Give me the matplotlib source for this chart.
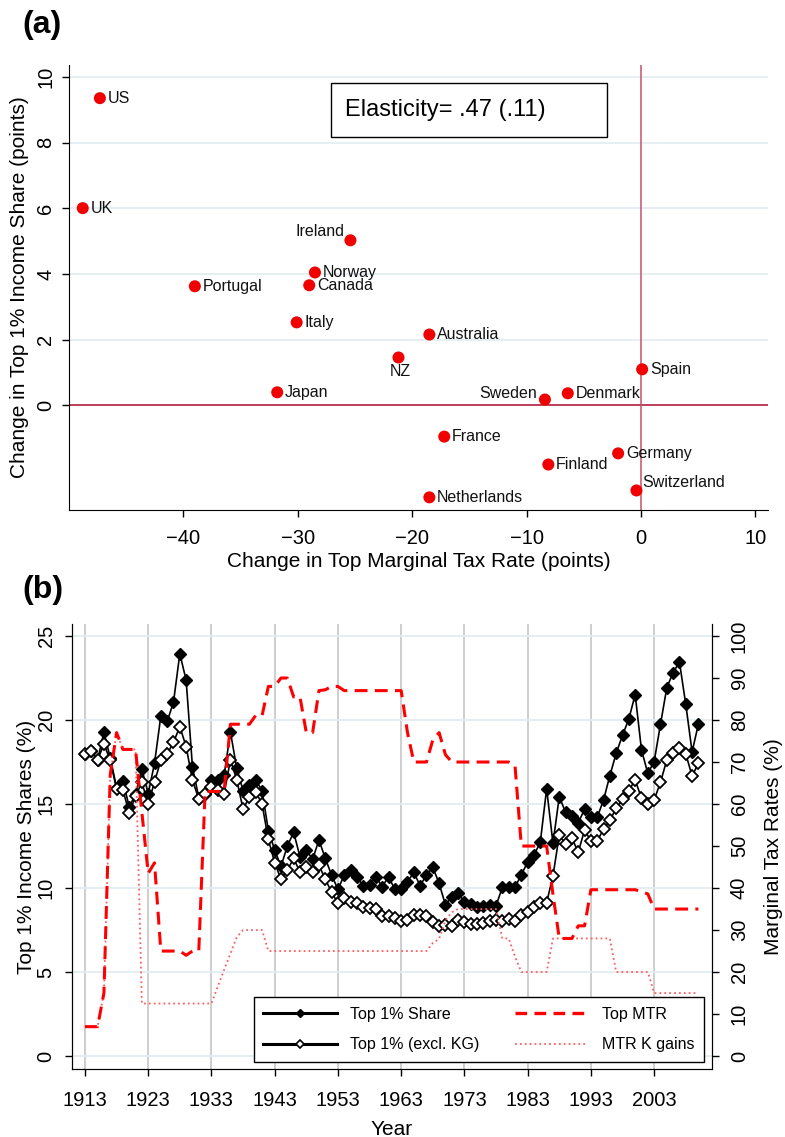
"""Two-panel figure: (a) cross-country change in top 1% share vs change in top MTR,
(b) US top 1% income shares and top marginal tax rates, 1913-2010."""

import matplotlib
matplotlib.use("Agg")
import matplotlib.pyplot as plt
from matplotlib.lines import Line2D
from matplotlib.patches import Rectangle

plt.rcParams["font.family"] = ["Liberation Sans", "DejaVu Sans"]

# ---- panel (a) data: change in top MTR vs change in top 1% share (points) ----
COUNTRIES = ["US", "UK", "Ireland", "Norway", "Portugal", "Canada", "Italy", "Australia",
             "NZ", "Japan", "Spain", "Sweden", "Denmark", "France", "Germany", "Finland",
             "Switzerland", "Netherlands"]
D_MTR = [-47.3, -48.8, -25.4, -28.5, -39.0, -29.0, -30.1, -18.5,
         -21.2, -31.8, 0.1, -8.4, -6.4, -17.2, -2.0, -8.1,
         -0.4, -18.5]
D_SHARE = [9.36, 6.01, 5.03, 4.05, 3.63, 3.66, 2.53, 2.16,
           1.46, 0.40, 1.10, 0.18, 0.37, -0.95, -1.46, -1.80,
           -2.59, -2.80]
ELASTICITY = "Elasticity= .47 (.11)"

# ---- panel (b) data: US, 1913-2010 ----
YEARS = list(range(1913, 2011))
TOP1_INCL = [17.96, 18.16, 17.62, 19.27, 17.75, 15.98, 16.37, 14.83, 15.58, 17.08,
             15.61, 17.42, 20.24, 19.91, 21.06, 23.94, 22.37, 17.20, 15.38, 15.60,
             16.45, 16.42, 16.70, 19.29, 17.13, 15.80, 16.13, 16.43, 15.80, 13.42,
             12.26, 11.28, 12.50, 13.31, 11.86, 12.26, 11.71, 12.86, 11.76, 10.77,
             9.92, 10.77, 11.07, 10.67, 10.13, 10.18, 10.67, 10.08, 10.67, 9.92,
             9.92, 10.37, 10.93, 10.14, 10.77, 11.23, 10.28, 8.99, 9.48, 9.68,
             9.19, 9.05, 8.87, 8.91, 9.01, 8.95, 10.04, 10.04, 10.04, 10.80,
             11.53, 11.96, 12.72, 15.91, 12.66, 15.43, 14.50, 14.29, 13.89, 14.68,
             14.21, 14.21, 15.24, 16.69, 18.02, 19.09, 20.06, 21.51, 18.21, 16.83,
             17.52, 19.74, 21.92, 22.82, 23.45, 20.93, 18.10, 19.76]
TOP1_EXCL = [17.96, 18.16, 17.62, 18.57, 17.60, 15.88, 15.84, 14.46, 15.47, 16.29,
             14.99, 16.32, 17.59, 17.97, 18.67, 19.60, 18.42, 16.40, 15.31, 15.59,
             16.03, 15.83, 15.59, 17.63, 16.45, 14.70, 15.40, 15.73, 15.00, 12.89,
             11.51, 10.52, 11.07, 11.76, 10.95, 11.27, 10.95, 11.36, 10.52, 9.76,
             9.08, 9.39, 9.14, 9.09, 8.89, 8.80, 8.75, 8.36, 8.31, 8.23,
             8.04, 8.08, 8.42, 8.42, 8.32, 7.97, 7.76, 7.80, 7.71, 8.07,
             7.97, 7.86, 7.88, 7.94, 8.03, 8.09, 8.03, 8.18, 8.03, 8.39,
             8.59, 8.89, 9.09, 9.13, 10.71, 13.15, 12.60, 12.96, 12.13, 13.45,
             12.80, 12.80, 13.50, 14.04, 14.74, 15.28, 15.80, 16.43, 15.34, 15.00,
             15.24, 16.29, 17.62, 18.06, 18.31, 17.98, 16.67, 17.42]
TOP_MTR = [7, 7, 7, 15, 67, 77, 73, 73, 73, 58,
           43.5, 46, 25, 25, 25, 25, 24, 25, 25, 63,
           63, 63, 63, 79, 79, 79, 79, 81.1, 81, 88,
           88, 90, 90, 85.5, 85.5, 77, 77, 87, 87.2, 88,
           88, 87, 87, 87, 87, 87, 87, 87, 87, 87,
           87, 77, 70, 70, 70, 75.25, 77, 71.75, 70, 70,
           70, 70, 70, 70, 70, 70, 70, 70, 69.13, 50,
           50, 50, 50, 50, 38.5, 28, 28, 28, 31, 31,
           39.6, 39.6, 39.6, 39.6, 39.6, 39.6, 39.6, 39.6, 39.1, 38.6,
           35, 35, 35, 35, 35, 35, 35, 35]
KG_MTR = [7, 7, 7, 15, 67, 77, 73, 73, 73, 12.5,
          12.5, 12.5, 12.5, 12.5, 12.5, 12.5, 12.5, 12.5, 12.5, 12.5,
          12.5, 16.5, 20.5, 24.4, 28.3, 30, 30, 30, 30, 25,
          25, 25, 25, 25, 25, 25, 25, 25, 25, 25,
          25, 25, 25, 25, 25, 25, 25, 25, 25, 25,
          25, 25, 25, 25, 25, 26.9, 27.9, 32.3, 34.25, 35,
          35, 35, 35, 35, 35, 35, 28, 28, 23.7, 20,
          20, 20, 20, 20, 28, 28, 28, 28, 28, 28,
          28, 28, 28, 28, 20, 20, 20, 20, 20, 20,
          15, 15, 15, 15, 15, 15, 15, 15]

# label placement for panel (a): default is to the right of the dot
LABEL_POS = {"Ireland": "ul", "NZ": "b", "Sweden": "l", "Switzerland": "ur"}
OFFSETS = {"r": ((5.5, 0), "left", "center"), "ul": ((-4, 6), "right", "center"),
           "b": ((1, -10), "center", "center"), "l": ((-6, 4.5), "right", "center"),
           "ur": ((4.5, 5.5), "left", "center")}

REF = "#b8304f"
GRID_H = "#e3edf0"
W, H = 785, 1137


def px_axes(l, t, r, b):
    return [l / W, 1 - b / H, (r - l) / W, (b - t) / H]


fig = plt.figure(figsize=(W / 100, H / 100), dpi=100)

# ================= panel (a) =================
axA = fig.add_axes(px_axes(69, 65, 768, 509.5))
axA.set_xlim(-50, 11.1)
axA.set_ylim(-3.17, 10.37)
for s in ("top", "right"):
    axA.spines[s].set_visible(False)
axA.set_xticks([-40, -30, -20, -10, 0, 10])
axA.set_yticks([0, 2, 4, 6, 8, 10])
axA.yaxis.grid(True, color=GRID_H, lw=1.3, zorder=0)
axA.set_axisbelow(True)
axA.tick_params(labelsize=14.5, length=5, width=1)
axA.tick_params(axis="x", pad=9)
axA.tick_params(axis="y", pad=5)
plt.setp(axA.get_yticklabels(), rotation=90, va="center")
axA.axhline(0, color=REF, lw=1.3, zorder=1)
axA.axvline(0, color="#c8506c", lw=1.1, zorder=1)
axA.scatter(D_MTR, D_SHARE, s=75, color="#f00000", edgecolors="none", zorder=3)
for name, x, y in zip(COUNTRIES, D_MTR, D_SHARE):
    (dx, dy), ha, va = OFFSETS[LABEL_POS.get(name, "r")]
    axA.annotate(name, (x, y), xytext=(dx, dy), textcoords="offset points",
                 ha=ha, va=va, fontsize=11.5, color="#111")
axA.set_xlabel("Change in Top Marginal Tax Rate (points)", fontsize=15, labelpad=3)
axA.set_ylabel("Change in Top 1% Income Share (points)", fontsize=15, labelpad=5)
axA.add_patch(Rectangle((0.3755, 0.838), 0.3935, 0.121, transform=axA.transAxes,
                        facecolor="white", edgecolor="black", lw=1, zorder=4))
axA.text(0.3948, 0.899, ELASTICITY, transform=axA.transAxes, fontsize=17,
         ha="left", va="center", zorder=5)

# ================= panel (b) =================
axB = fig.add_axes(px_axes(72.3, 624, 711.7, 1069))
ax2 = axB.twinx()
axB.set_xlim(1911, 2012.1)
axB.set_ylim(-0.77, 25.71)
ax2.set_ylim(-3.08, 102.86)
axB.spines["top"].set_visible(False)
ax2.spines["top"].set_visible(False)
axB.set_xticks(list(range(1913, 2004, 10)))
axB.set_yticks([0, 5, 10, 15, 20, 25])
ax2.set_yticks(list(range(0, 101, 10)))
axB.xaxis.grid(True, color="#c6c6c6", lw=1.2)
axB.yaxis.grid(True, color=GRID_H, lw=1.3)
axB.set_axisbelow(True)
axB.tick_params(axis="both", labelsize=14.5, length=5, width=1)
axB.tick_params(axis="x", pad=11)
axB.tick_params(axis="y", pad=7)
ax2.tick_params(labelsize=14.5, length=5, width=1, pad=8)
plt.setp(axB.get_yticklabels(), rotation=90, va="center")
plt.setp(ax2.get_yticklabels(), rotation=90, va="center")

axB.plot(YEARS, TOP1_INCL, color="black", lw=1.2, marker="D", ms=6.0,
         mfc="black", mec="black", mew=1.0, zorder=3)
axB.plot(YEARS, TOP1_EXCL, color="black", lw=1.2, marker="D", ms=6.0,
         mfc="white", mec="black", mew=1.3, zorder=4)
ax2.plot(YEARS, TOP_MTR, color="#ff0000", lw=2.2, dashes=(4.2, 2.4), zorder=3)
ax2.plot(YEARS, KG_MTR, color="#ff5e5e", lw=1.3, ls=(0, (1, 1.7)), zorder=2)

axB.set_xlabel("Year", fontsize=15, labelpad=7)
axB.set_ylabel("Top 1% Income Shares (%)", fontsize=15, labelpad=0.5)
ax2.set_ylabel("Marginal Tax Rates (%)", fontsize=15, labelpad=11)

handles = [
    Line2D([], [], color="black", lw=2.2, marker="D", ms=4.5, mfc="black", mec="black"),
    Line2D([], [], color="black", lw=2.2, marker="D", ms=4.5, mfc="white", mec="black", mew=1.2),
    Line2D([], [], color="#ff0000", lw=2.4, dashes=(3.5, 2.2)),
    Line2D([], [], color="#ff5e5e", lw=1.3, ls=(0, (1, 1.7))),
]
labels = ["Top 1% Share", "Top 1% (excl. KG)", "Top MTR", "MTR K gains"]
leg = ax2.legend(handles, labels, ncol=2, loc="lower right",
                 bbox_to_anchor=(0.988, 0.0164), borderaxespad=0, fontsize=11.5,
                 handlelength=4.6, handletextpad=0.85, columnspacing=2.2,
                 labelspacing=0.95, borderpad=0.6, fancybox=False, framealpha=1,
                 edgecolor="black")
leg.get_frame().set_linewidth(1.0)
leg.set_zorder(10)

fig.text(22 / W, 1 - 25 / H, "(a)", fontsize=23, weight="bold", va="center")
fig.text(22 / W, 1 - 590 / H, "(b)", fontsize=23, weight="bold", va="center")

fig.savefig("out.png", dpi=100)
